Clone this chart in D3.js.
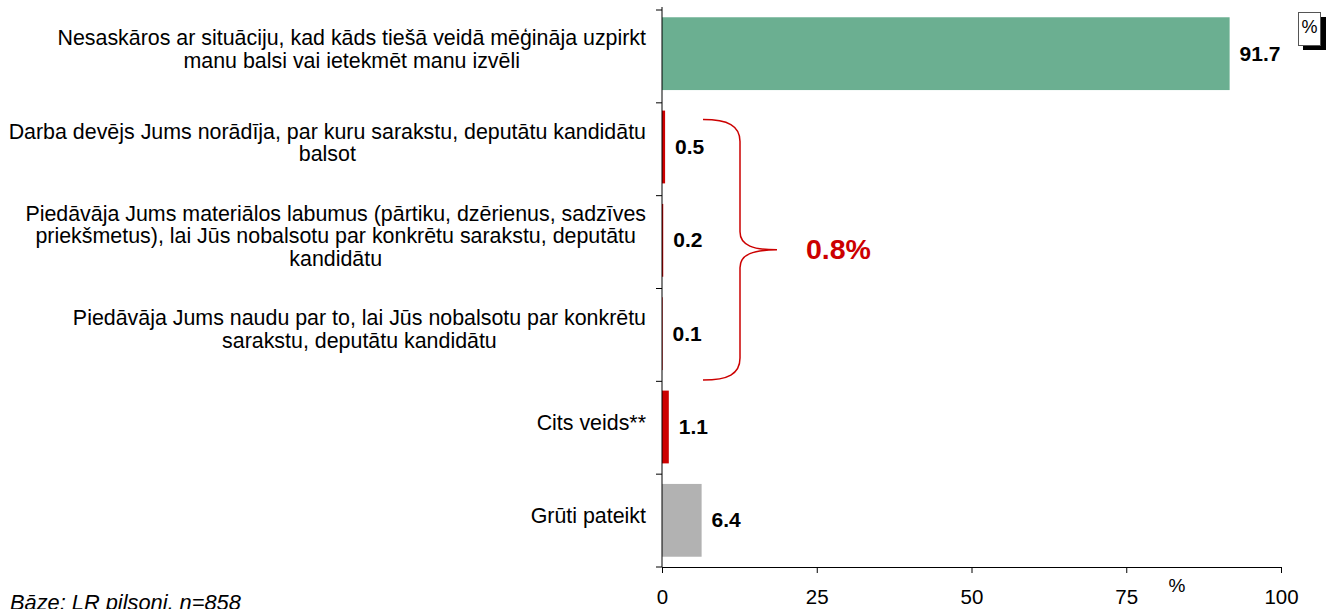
<!DOCTYPE html>
<html><head><meta charset="utf-8">
<script src="https://cdn.jsdelivr.net/npm/d3@7/dist/d3.min.js"></script>
<style>html,body{margin:0;padding:0;background:#fff;}svg{display:block;font-family:"Liberation Sans",Arial,sans-serif;}</style>
</head><body>
<svg id="c" width="1336" height="609"></svg>
<script>
const categories = [
  ["Nesaskāros ar situāciju, kad kāds tiešā veidā mēģināja uzpirkt", "manu balsi vai ietekmēt manu izvēli"],
  ["Darba devējs Jums norādīja, par kuru sarakstu, deputātu kandidātu", "balsot"],
  ["Piedāvāja Jums materiālos labumus (pārtiku, dzērienus, sadzīves", "priekšmetus), lai Jūs nobalsotu par konkrētu sarakstu, deputātu", "kandidātu"],
  ["Piedāvāja Jums naudu par to, lai Jūs nobalsotu par konkrētu", "sarakstu, deputātu kandidātu"],
  ["Cits veids**"],
  ["Grūti pateikt"]
];
const values = [91.7, 0.5, 0.2, 0.1, 1.1, 6.4];
const valueLabels = ["91.7", "0.5", "0.2", "0.1", "1.1", "6.4"];
const barColors = ["#6baf91", "#cc0000", "#cc0000", "#cc0000", "#cc0000", "#b2b2b2"];
const xTicks = [0, 25, 50, 75, 100];
const braceLabel = "0.8%";
const footnote = "Bāze: LR pilsoņi, n=858";

const svg = d3.select("#c");
const x0 = 662, x1 = 1281, yTop = 7, yBot = 567;
const x = d3.scaleLinear().domain([0, 100]).range([x0, x1]);
const y = d3.scaleBand().domain(d3.range(values.length)).range([yTop, yBot]).paddingInner(0.22).paddingOuter(0.11);

// bars
svg.selectAll("rect.bar").data(values).join("rect")
  .attr("class", "bar")
  .attr("x", x(0))
  .attr("y", (d, i) => y(i))
  .attr("width", d => Math.max(0, x(d) - x(0)))
  .attr("height", y.bandwidth())
  .attr("fill", (d, i) => barColors[i]);

// value labels
svg.selectAll("text.val").data(values).join("text")
  .attr("class", "val")
  .attr("x", d => x(d) + 10)
  .attr("y", (d, i) => y(i) + y.bandwidth() / 2 + 7)
  .attr("font-size", 21).attr("font-weight", "bold")
  .text((d, i) => valueLabels[i]);

// y axis line and ticks
svg.append("line").attr("x1", x0).attr("x2", x0).attr("y1", yTop).attr("y2", yBot).attr("stroke", "#000");
svg.selectAll("line.yt").data(d3.range(values.length + 1)).join("line")
  .attr("class", "yt")
  .attr("x1", x0 - 6).attr("x2", x0)
  .attr("y1", i => yTop + 3 + i * ((yBot - yTop - 3) / values.length))
  .attr("y2", i => yTop + 3 + i * ((yBot - yTop - 3) / values.length))
  .attr("stroke", "#000");

// x axis
const xAxis = d3.axisBottom(x).tickValues(xTicks).tickSize(6).tickPadding(16).tickSizeOuter(6);
const gx = svg.append("g").attr("transform", `translate(0,${yBot})`).call(xAxis);
gx.select(".domain").attr("stroke", "#000");
gx.selectAll(".tick line").attr("stroke", "#000");
gx.selectAll(".tick text").attr("font-size", 20.5).attr("font-family", "Liberation Sans, Arial, sans-serif").attr("fill", "#000");
svg.append("text").attr("x", 1177).attr("y", 592).attr("text-anchor", "middle").attr("font-size", 19).text("%");

// category labels (lines centered within block, block right aligned)
const rightEdge = 646, lh = 22.5;
categories.forEach((lines, i) => {
  const g = svg.append("g");
  const ts = lines.map(l => g.append("text").attr("font-size", 21.4).attr("text-anchor", "middle").text(l));
  const maxW = d3.max(ts, t => t.node().getComputedTextLength());
  const cx = rightEdge - maxW / 2;
  const cy = y(i) + y.bandwidth() / 2;
  const n = lines.length;
  ts.forEach((t, k) => t.attr("x", cx).attr("y", cy + (k - (n - 1) / 2) * lh + 3));
});

// brace
const bTop = y(1) + 9, bBot = y(3) + y.bandwidth() + 10, bMid = (bTop + bBot) / 2;
const bx0 = x(0) + 41, bx1 = x(0) + 78, bx2 = x(0) + 115;
const p = d3.path();
p.moveTo(bx0, bTop);
p.bezierCurveTo(bx0 + 25, bTop, bx1, bTop + 6, bx1, bTop + 22);
p.lineTo(bx1, bMid - 18);
p.bezierCurveTo(bx1, bMid - 4, bx1 + 14, bMid, bx2, bMid);
p.bezierCurveTo(bx1 + 14, bMid, bx1, bMid + 4, bx1, bMid + 18);
p.lineTo(bx1, bBot - 22);
p.bezierCurveTo(bx1, bBot - 6, bx0 + 25, bBot, bx0, bBot);
svg.append("path").attr("d", p.toString()).attr("fill", "none").attr("stroke", "#cc0000").attr("stroke-width", 1.5);
svg.append("text").attr("x", bx2 + 29).attr("y", bMid + 9).attr("font-size", 28.5).attr("font-weight", "bold").attr("fill", "#cc0000").text(braceLabel);

// % box
svg.append("rect").attr("x", 1303).attr("y", 17).attr("width", 23).attr("height", 33).attr("fill", "#000");
svg.append("rect").attr("x", 1298.5).attr("y", 12.5).attr("width", 22).attr("height", 33).attr("fill", "#fff").attr("stroke", "#555").attr("stroke-width", 1);
svg.append("text").attr("x", 1309.5).attr("y", 33).attr("text-anchor", "middle").attr("font-size", 18).text("%");

// footnote
svg.append("text").attr("x", 10).attr("y", 610).attr("font-size", 21.8).attr("font-style", "italic").text(footnote);
</script>
</body></html>
